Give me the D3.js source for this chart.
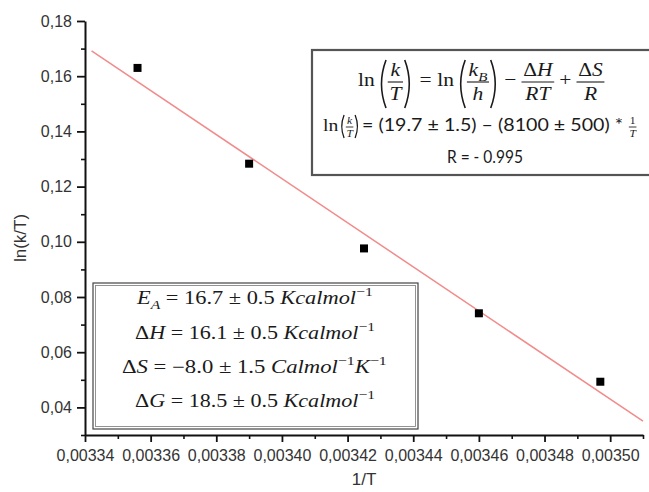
<!DOCTYPE html>
<html><head><meta charset="utf-8">
<script src="https://cdn.jsdelivr.net/npm/d3@7"></script>
<style>
body{margin:0;background:#fff;}
svg text{white-space:pre;}
</style></head><body>
<svg id="c" width="649" height="492"></svg>
<script>
// ---- data ----
const invT = [0.003356, 0.003390, 0.003425, 0.003460, 0.003497];
const lnKT = [0.1630, 0.1283, 0.0976, 0.0741, 0.0493];
const fitX = [0.003342, 0.00351];
const fitY = [0.1692, 0.0350];
const xTicks = [0.00334, 0.00336, 0.00338, 0.00340, 0.00342, 0.00344, 0.00346, 0.00348, 0.00350];
const xMinor = [0.00335, 0.00337, 0.00339, 0.00341, 0.00343, 0.00345, 0.00347, 0.00349, 0.00351];
const yTicks = [0.04, 0.06, 0.08, 0.10, 0.12, 0.14, 0.16, 0.18];
const yMinor = [0.03, 0.05, 0.07, 0.09, 0.11, 0.13, 0.15, 0.17];
const xLabel = "1/T";
const yLabel = "ln(k/T)";

// ---- setup ----
const W = 649, H = 492;
const margin = {top: 21, right: 6, bottom: 57, left: 85};
const INK = "#1a1a1a";
const SERIF = "'Liberation Serif','DejaVu Serif',serif";
const SANS = "Lato,'Liberation Sans',sans-serif";
const AXF = "'Liberation Sans',Arial,sans-serif";
const svg = d3.select("#c");
svg.append("rect").attr("width", W).attr("height", H).attr("fill", "#fff");

const x = d3.scaleLinear().domain([0.00334, 0.00351]).range([margin.left, W - margin.right]);
const y = d3.scaleLinear().domain([0.03, 0.18]).range([H - margin.bottom, margin.top]);

const commaFmt = p => d => d3.format("." + p + "f")(d).replace(".", ",");

// minor ticks
svg.append("g").attr("transform", `translate(0,${y.range()[0]})`)
  .call(d3.axisBottom(x).tickValues(xMinor).tickFormat("").tickSize(4).tickSizeOuter(0))
  .call(g => g.select(".domain").remove())
  .call(g => g.selectAll("line").attr("stroke", "#111").attr("stroke-width", 1.6));
svg.append("g").attr("transform", `translate(${x.range()[0]},0)`)
  .call(d3.axisLeft(y).tickValues(yMinor).tickFormat("").tickSize(4).tickSizeOuter(0))
  .call(g => g.select(".domain").remove())
  .call(g => g.selectAll("line").attr("stroke", "#111").attr("stroke-width", 1.6));

// major axes
const gx = svg.append("g").attr("transform", `translate(0,${y.range()[0]})`)
  .call(d3.axisBottom(x).tickValues(xTicks).tickFormat(commaFmt(5)).tickSize(7).tickPadding(8).tickSizeOuter(0));
const gy = svg.append("g").attr("transform", `translate(${x.range()[0]},0)`)
  .call(d3.axisLeft(y).tickValues(yTicks).tickFormat(commaFmt(2)).tickSize(8).tickPadding(5).tickSizeOuter(0));
[gx, gy].forEach(g => {
  g.select(".domain").attr("stroke", "#111").attr("stroke-width", 2);
  g.selectAll(".tick line").attr("stroke", "#111").attr("stroke-width", 1.8);
  g.selectAll(".tick text").attr("font-family", AXF).attr("font-size", 16).attr("fill", "#333");
});

// axis titles
svg.append("text").attr("x", (x.range()[0] + x.range()[1]) / 2).attr("y", 485)
  .attr("text-anchor", "middle").attr("font-family", AXF).attr("font-size", 17).attr("fill", "#333").text(xLabel);
svg.append("text").attr("transform", "translate(26,238) rotate(-90)")
  .attr("text-anchor", "middle").attr("font-family", AXF).attr("font-size", 17).attr("fill", "#333").text(yLabel);

// fit line
svg.append("path").datum(d3.zip(fitX, fitY))
  .attr("d", d3.line().x(d => x(d[0])).y(d => y(d[1])))
  .attr("fill", "none").attr("stroke", "#f28b8b").attr("stroke-width", 1.5);

// points
const S = 8;
svg.append("g").selectAll("rect").data(d3.zip(invT, lnKT)).join("rect")
  .attr("x", d => x(d[0]) - S / 2).attr("y", d => y(d[1]) - S / 2)
  .attr("width", S).attr("height", S).attr("fill", "#000");

// ---- math text helpers ----
function richText(g, parts, fs, family, xpos, ypos) {
  const t = g.append("text").attr("x", xpos).attr("y", ypos)
    .attr("font-family", family).attr("font-size", fs).attr("fill", INK);
  let shift = 0;
  parts.forEach(p => {
    if (typeof p === "string") p = {s: p};
    const target = p.sub ? fs * 0.28 : p.sup ? -fs * 0.45 : 0;
    const ts = t.append("tspan").text(p.s).attr("dy", target - shift)
      .attr("font-size", (p.sub || p.sup) ? fs * 0.7 : fs)
      .attr("font-style", p.i ? "italic" : "normal");
    if (p.f) ts.attr("font-family", p.f);
    shift = target;
  });
  return t;
}
function mathLine(parent, items, opt) {
  const inner = parent.append("g");
  let cx = 0;
  items.forEach(it => {
    if (it.gap) { cx += it.gap; return; }
    if (it.paren) {
      const [top, bot] = it.span, w = it.w, mid = (top + bot) / 2;
      const d = it.paren === "("
        ? `M${cx + w - 1},${top} Q${cx},${mid} ${cx + w - 1},${bot}`
        : `M${cx + 1},${top} Q${cx + w},${mid} ${cx + 1},${bot}`;
      inner.append("path").attr("d", d).attr("fill", "none").attr("stroke", INK).attr("stroke-width", it.sw || 1.4);
      cx += w; return;
    }
    if (it.frac) {
      const n = richText(inner, it.num, it.fs, it.f || SERIF, 0, it.nb);
      const dd = richText(inner, it.den, it.fs, it.f || SERIF, 0, it.db);
      const wn = n.node().getComputedTextLength(), wd = dd.node().getComputedTextLength();
      const pad = it.pad == null ? 2 : it.pad;
      const w = Math.max(wn, wd) + pad * 2;
      n.attr("x", cx + (w - wn) / 2); dd.attr("x", cx + (w - wd) / 2);
      inner.append("line").attr("x1", cx + 0.5).attr("x2", cx + w - 0.5)
        .attr("y1", it.bar).attr("y2", it.bar).attr("stroke", INK).attr("stroke-width", it.bw || 1.1);
      cx += w; return;
    }
    const t = richText(inner, it.parts, it.fs, it.f || SERIF, cx, 0);
    cx += t.node().getComputedTextLength();
  });
  const sx = (opt.right - opt.left) / cx;
  inner.attr("transform", `translate(${opt.left},${opt.baseline}) scale(${sx},1)`);
}

// ---- equation box ----
const eqBox = svg.append("g");
eqBox.append("rect").attr("x", 312).attr("y", 50).attr("width", 345).attr("height", 125)
  .attr("fill", "#fff").attr("stroke", "#555").attr("stroke-width", 2.2);
const F1 = 19;
const bigP = {span: [-26, 22], w: 9};
const fr1 = (num, den) => ({frac: 1, num, den, fs: F1, nb: -10, db: 14, bar: -4});
mathLine(eqBox, [
  {parts: ["ln"], fs: F1}, {gap: 2},
  {paren: "(", ...bigP}, fr1([{s: "k", i: 1}], [{s: "T", i: 1}]), {paren: ")", ...bigP},
  {gap: 5}, {parts: ["="], fs: F1}, {gap: 5},
  {parts: ["ln"], fs: F1}, {gap: 2},
  {paren: "(", ...bigP}, fr1([{s: "k", i: 1}, {s: "B", i: 1, sub: 1}], [{s: "h", i: 1}]), {paren: ")", ...bigP},
  {gap: 4}, {parts: ["−"], fs: F1}, {gap: 4},
  fr1([{s: "Δ"}, {s: "H", i: 1}], [{s: "RT", i: 1}]),
  {gap: 4}, {parts: ["+"], fs: F1}, {gap: 4},
  fr1([{s: "Δ"}, {s: "S", i: 1}], [{s: "R", i: 1}])
], {left: 358, right: 605, baseline: 86});

const smP = {span: [-16, 7], w: 5, sw: 1.1};
const fr2 = (num, den) => ({frac: 1, num, den, fs: 10, nb: -7, db: 6, bar: -4, bw: 0.8, pad: 1});
mathLine(eqBox, [
  {parts: ["ln"], fs: 17}, {gap: 1},
  {paren: "(", ...smP}, fr2([{s: "k", i: 1}], [{s: "T", i: 1}]), {paren: ")", ...smP},
  {gap: 2},
  {parts: ["= (19.7 ± 1.5) – (8100 ± 500) * "], fs: 17, f: SANS},
  fr2([{s: "1"}], [{s: "T", i: 1}])
], {left: 323, right: 637, baseline: 131});
mathLine(eqBox, [{parts: ["R = - 0.995"], fs: 17, f: SANS}], {left: 447, right: 523, baseline: 163});

// ---- parameter box ----
const pBox = svg.append("g");
pBox.append("rect").attr("x", 93).attr("y", 283).attr("width", 325).attr("height", 146)
  .attr("fill", "#fff").attr("stroke", "#444").attr("stroke-width", 1.2);
pBox.append("rect").attr("x", 95.5).attr("y", 285.5).attr("width", 320).attr("height", 141)
  .attr("fill", "none").attr("stroke", "#888").attr("stroke-width", 0.9);
const FP = 18;
const pLines = [
  {parts: [{s: "E", i: 1}, {s: "A", i: 1, sub: 1}, " = 16.7 ± 0.5 ", {s: "Kcalmol", i: 1}, {s: "−1", sup: 1}], left: 137, right: 373, baseline: 304},
  {parts: [{s: "Δ"}, {s: "H", i: 1}, " = 16.1 ± 0.5 ", {s: "Kcalmol", i: 1}, {s: "−1", sup: 1}], left: 135, right: 375, baseline: 339},
  {parts: [{s: "Δ"}, {s: "S", i: 1}, " = −8.0 ± 1.5 ", {s: "Calmol", i: 1}, {s: "−1", sup: 1}, {s: "K", i: 1}, {s: "−1", sup: 1}], left: 122, right: 387, baseline: 373},
  {parts: [{s: "Δ"}, {s: "G", i: 1}, " = 18.5 ± 0.5 ", {s: "Kcalmol", i: 1}, {s: "−1", sup: 1}], left: 135, right: 375, baseline: 407}
];
pLines.forEach(l => mathLine(pBox, [{parts: l.parts, fs: FP}], l));
</script>
</body></html>
